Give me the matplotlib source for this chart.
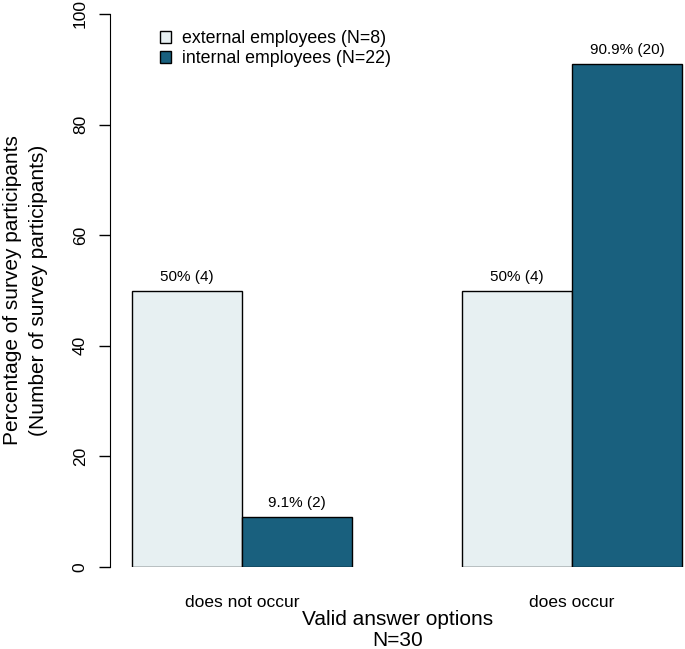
import matplotlib.pyplot as plt
import numpy as np

plt.rcParams['font.family'] = ['Liberation Sans', 'DejaVu Sans']

# Datos
categorias = ["does not occur", "does occur"]
grupos = ["external employees (N=8)", "internal employees (N=22)"]
pct_externos = [50, 50]
n_externos = [4, 4]
pct_internos = [9.1, 90.9]
n_internos = [2, 20]
etiquetas_y = [0, 20, 40, 60, 80, 100]

colores = ["#e7f0f2", "#19607e"]

fig = plt.figure(figsize=(6.85, 6.49), dpi=100)
ax = fig.add_axes([110 / 685, (649 - 567) / 649, (685 - 110) / 685, (567 - 14) / 649])

# posiciones tipo barplot de R (beside=TRUE)
ancho = 1.0
indice = np.array([2.0, 5.0])

bar1 = ax.bar(indice - ancho / 2, pct_externos, ancho, color=colores[0],
              edgecolor="black", linewidth=1, label=grupos[0])
bar2 = ax.bar(indice + ancho / 2, pct_internos, ancho, color=colores[1],
              edgecolor="black", linewidth=1, label=grupos[1])

# etiquetas sobre las barras
for barras, pcts, ns in [(bar1, pct_externos, n_externos), (bar2, pct_internos, n_internos)]:
    for rect, p, n in zip(barras, pcts, ns):
        txt = "{:g}% ({})".format(p, n)
        ax.annotate(txt, xy=(rect.get_x() + rect.get_width() / 2, rect.get_height()),
                    xytext=(0, 5), textcoords="offset points",
                    ha="center", va="bottom", fontsize=11)

ax.set_xlim(0.8, 6.027)
ax.set_ylim(0, 100)
ax.set_yticks(etiquetas_y)
ax.set_yticklabels([str(v) for v in etiquetas_y], fontsize=12.5)
ax.tick_params(axis="y", length=8, width=1, pad=8, labelrotation=90)
for lab in ax.get_yticklabels():
    lab.set_va("center")
ax.set_xticks(indice)
ax.set_xticklabels(categorias, fontsize=12.5)
ax.tick_params(axis="x", length=0, pad=20)

for lado in ["top", "right", "bottom"]:
    ax.spines[lado].set_visible(False)
ax.spines["left"].set_bounds(0, 100)

ax.set_ylabel("Percentage of survey participants\n(Number of survey participants)",
              fontsize=15, labelpad=18, linespacing=1.45)
ax.set_xlabel("Valid answer options\nN=30", fontsize=15, labelpad=0, linespacing=1.12)

ax.legend(loc="upper left", bbox_to_anchor=(151 / 685, 1 - 21 / 649),
          bbox_transform=fig.transFigure, frameon=False, fontsize=12.8,
          handlelength=0.65, handleheight=0.65, handletextpad=0.6, labelspacing=0.2,
          borderpad=0)

fig.savefig("out.png", dpi=100)
